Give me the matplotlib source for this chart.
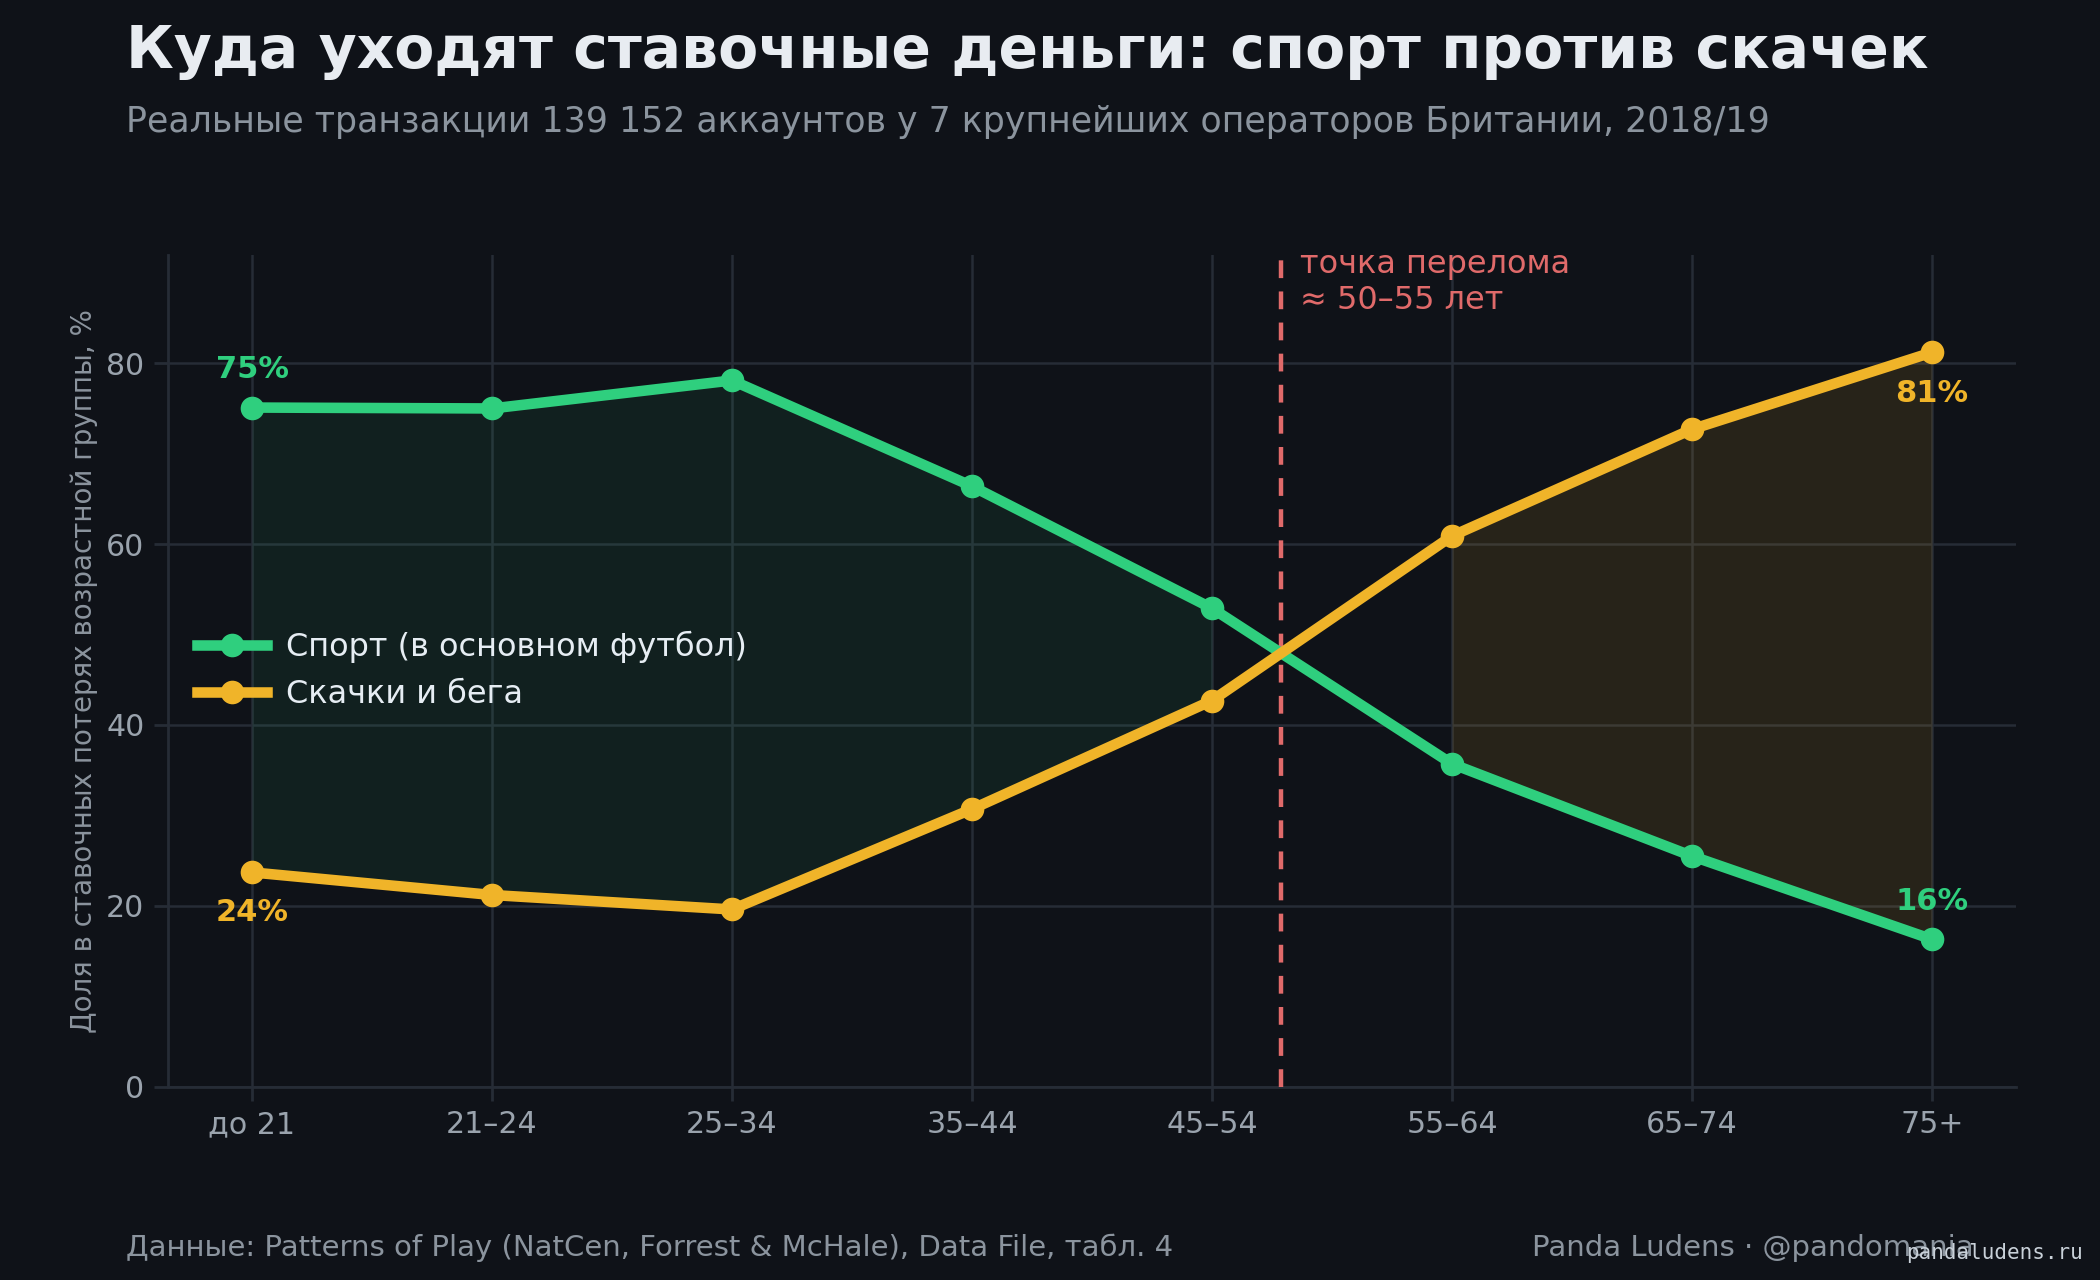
import numpy as np
import matplotlib
matplotlib.use("Agg")
import matplotlib.pyplot as plt

# ── Data ──────────────────────────────────────────────────────────────
AGE_GROUPS = ["до 21", "21–24", "25–34", "35–44", "45–54", "55–64", "65–74", "75+"]
SPORT = [75.1, 75.0, 78.1, 66.4, 52.9, 35.7, 25.5, 16.3]
HORSES = [23.7, 21.2, 19.6, 30.7, 42.7, 60.9, 72.7, 81.2]
YTICKS = [0, 20, 40, 60, 80]

# ── Style ─────────────────────────────────────────────────────────────
BG = "#0f1218"
GRID = "#262c36"
GREEN = "#2fcf7e"
YELLOW = "#f0b429"
RED = "#e06a6a"
TITLE_C = "#e8ecf1"
MUTED = "#8b949e"
TICK_C = "#9aa3ad"

plt.rcParams["font.family"] = ["DejaVu Sans"]

x = np.arange(len(AGE_GROUPS))
sport = np.array(SPORT)
horses = np.array(HORSES)

fig = plt.figure(figsize=(10.5, 6.4), dpi=200, facecolor=BG)
ax = fig.add_axes([0.080, 0.151, 0.880, 0.650])
ax.set_facecolor(BG)

# shaded areas: sport dominance (left), horses dominance (right)
ax.fill_between(x[:5], sport[:5], horses[:5], color=GREEN, alpha=0.08, lw=0)
ax.fill_between(x[5:], sport[5:], horses[5:], color=YELLOW, alpha=0.11, lw=0)

ax.plot(x, sport, color=GREEN, lw=3.8, marker="o", ms=7.5,
        label="Спорт (в основном футбол)", zorder=4)
ax.plot(x, horses, color=YELLOW, lw=3.8, marker="o", ms=7.5,
        label="Скачки и бега", zorder=4)

# crossing point between the two series
diff = sport - horses
i = np.where(np.diff(np.sign(diff)) != 0)[0][0]
cross = x[i] + diff[i] / (diff[i] - diff[i + 1])
ax.axvline(cross, color=RED, lw=1.6, ls=(0, (4, 3)), zorder=3)
ax.text(cross + 0.08, 92.6, "точка перелома\n≈ 50–55 лет", color=RED,
        fontsize=11.5, va="top", ha="left", linespacing=1.2, clip_on=False)

# end labels
lab = dict(fontsize=11, fontweight="bold", ha="center", va="center")
ax.text(x[0], sport[0] + 4.2, f"{SPORT[0]:.0f}%", color=GREEN, **lab)
ax.text(x[0], horses[0] - 4.4, f"{HORSES[0]:.0f}%", color=YELLOW, **lab)
ax.text(x[-1], horses[-1] - 4.5, f"{HORSES[-1]:.0f}%", color=YELLOW, **lab)
ax.text(x[-1], sport[-1] + 4.2, f"{SPORT[-1]:.0f}%", color=GREEN, **lab)

ax.set_xlim(-0.35, len(AGE_GROUPS) - 1 + 0.35)
ax.set_ylim(0, 92)
ax.set_xticks(x)
ax.set_xticklabels(AGE_GROUPS)
ax.set_yticks(YTICKS)
ax.tick_params(colors=GRID, labelcolor=TICK_C, labelsize=10.8, length=5, width=1)
ax.grid(True, color=GRID, lw=0.9)
ax.set_axisbelow(True)
for s in ["top", "right"]:
    ax.spines[s].set_visible(False)
for s in ["left", "bottom"]:
    ax.spines[s].set_color(GRID)
    ax.spines[s].set_linewidth(1)
ax.set_ylabel("Доля в ставочных потерях возрастной группы, %", color=MUTED,
              fontsize=10, labelpad=3)

leg = ax.legend(loc="center left", bbox_to_anchor=(0.0, 0.50), frameon=False,
                fontsize=11.5, labelcolor="#e6edf3", handlelength=2.2,
                handletextpad=0.6, labelspacing=0.5)

# titles and footer
fig.text(0.060, 0.960, "Куда уходят ставочные деньги: спорт против скачек",
         color=TITLE_C, fontsize=21, fontweight="bold", va="center", ha="left")
fig.text(0.060, 0.905,
         "Реальные транзакции 139 152 аккаунтов у 7 крупнейших операторов Британии, 2018/19",
         color=MUTED, fontsize=12.5, va="center", ha="left")
fig.text(0.060, 0.025,
         "Данные: Patterns of Play (NatCen, Forrest & McHale), Data File, табл. 4",
         color=MUTED, fontsize=10.5, va="center", ha="left")
fig.text(0.940, 0.025, "Panda Ludens · @pandomania", color=MUTED, fontsize=10.5,
         va="center", ha="right")
fig.text(0.992, 0.021, "pandaludens.ru", color="#c9d1d9", fontsize=7.5,
         family="DejaVu Sans Mono", va="center", ha="right")

fig.savefig("out.png", facecolor=BG)
